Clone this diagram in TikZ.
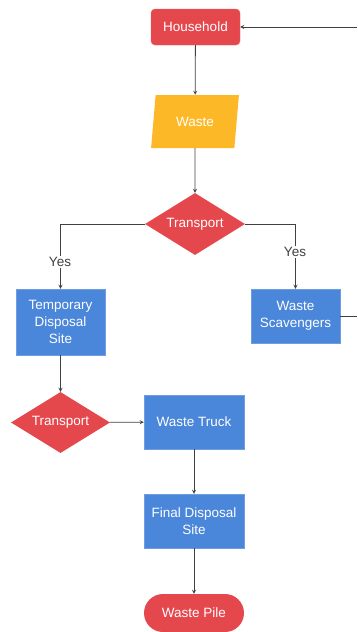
\documentclass[tikz,border=0pt]{standalone}
\usepackage{fontspec}
\setmainfont{Liberation Sans}
\usepackage{tikz}
\usetikzlibrary{shapes.geometric,shapes.misc,calc,positioning,arrows}
\definecolor{boxred}{HTML}{E4474C}
\definecolor{boxyellow}{HTML}{FDB827}
\definecolor{boxblue}{HTML}{4A86DA}
\definecolor{linegray}{HTML}{404040}
\tikzset{
	every node/.style={font=\fontsize{13.5}{17}\selectfont, text=white, align=center, inner sep=0pt},
	redbox/.style={fill=boxred, draw=boxred!85!white, rounded corners=4pt, minimum width=89pt, minimum height=36pt},
	datbox/.style={trapezium, trapezium left angle=77, trapezium right angle=103, trapezium stretches=true, fill=boxyellow, minimum width=88pt, minimum height=53pt},
	decbox/.style={diamond, aspect=1.6, fill=boxred, minimum width=100pt, minimum height=62pt},
	procbox/.style={fill=boxblue, draw=boxblue!80!white, minimum width=100pt, minimum height=54pt},
	endbox/.style={rounded rectangle, fill=boxred, minimum width=100pt, minimum height=38pt},
	link/.style={linegray, line width=0.8pt},
	yeslabel/.style={fill=white, text=linegray, inner sep=1pt}
}
\begin{document}
\begin{tikzpicture}[x=1pt, y=-1pt]
			\useasboundingbox (0,0) rectangle (357,632);
			\node[redbox] (house) at (195.5,27) {Household};
			\node[datbox] (waste) at (195,121.5) {Waste};
			\node[decbox] (trans1) at (195,224) {Transport};
			\node[procbox, minimum width=89pt, minimum height=66pt] (temp) at (60.5,322) {Temporary\\Disposal\\Site};
			\node[procbox, minimum width=89pt] (scav) at (295.5,316) {Waste\\Scavengers};
			\node[decbox, minimum width=99pt, minimum height=61pt] (trans2) at (60.5,422.5) {Transport};
			\node[procbox] (truck) at (194,422) {Waste Truck};
			\node[procbox] (final) at (194,521) {Final Disposal\\Site};
			\node[endbox] (pile) at (194,613) {Waste Pile};
			\coordinate (in) at (357,27);
			\coordinate (out) at (357,316);
			\draw[link, -stealth] (in)--(house.east);
			\draw[link, -stealth] (house)--(waste);
			\draw[link, -stealth] (waste)--(trans1);
			\draw[link, -stealth] (trans1.west)-|(temp.north);
			\draw[link, -stealth] (trans1.east)-|(scav.north);
			\draw[link, -stealth] (temp)--(trans2);
			\draw[link, -stealth] (trans2)--(truck);
			\draw[link, -stealth] (truck)--(final);
			\draw[link, -stealth] (final)--(pile);
			\draw[link] (scav.east)--(out);
			\node[yeslabel] (yes1) at (60,262) {Yes};
			\node[yeslabel] (yes2) at (295,252) {Yes};
	\end{tikzpicture}
\end{document}
